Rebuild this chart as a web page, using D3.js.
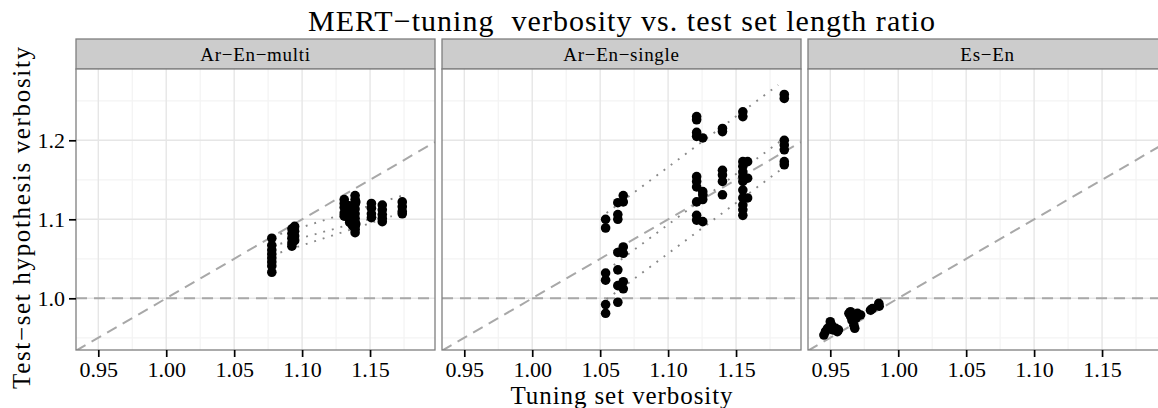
<!DOCTYPE html>
<html><head><meta charset="utf-8">
<script src="https://cdn.jsdelivr.net/npm/d3@7"></script>
<style>
body{margin:0;background:#fff}
svg{display:block}
text{font-family:"Liberation Serif","Times New Roman",serif;fill:#000}
</style>
</head><body>
<svg id="chart" width="1158" height="408"></svg>
<script>
// ---------- data ----------
const panels = ["Ar−En−multi", "Ar−En−single", "Es−En"];
const xTicks = [0.95, 1.00, 1.05, 1.10, 1.15];
const xMinor = [0.975, 1.025, 1.075, 1.125, 1.175];
const yTicks = [1.0, 1.1, 1.2];
const yMinor = [0.95, 1.05, 1.15, 1.25];

const multiX = [1.0777,1.0777,1.0777,1.0777,1.0777,1.0777,1.0777,1.0777,
  1.0925,1.0925,1.0925,1.0925,1.0925,1.0945,1.0945,1.0945,1.0945,
  1.131,1.131,1.131,1.131,1.131,1.1325,1.1325,
  1.135,1.135,1.135,1.135,1.135,1.137,1.137,1.137,
  1.139,1.139,1.139,1.139,1.139,1.139,1.139,1.139,1.139,1.139,1.1395,1.1395,
  1.151,1.151,1.151,1.151,
  1.159,1.159,1.159,1.159,1.159,
  1.1737,1.1737,1.1737,1.1737];
const multiY = [1.076,1.067,1.061,1.056,1.051,1.046,1.041,1.033,
  1.088,1.082,1.076,1.070,1.066,1.091,1.085,1.079,1.073,
  1.125,1.120,1.115,1.108,1.104,1.118,1.110,
  1.117,1.111,1.105,1.100,1.096,1.108,1.102,1.092,
  1.130,1.125,1.119,1.113,1.107,1.101,1.096,1.091,1.087,1.083,1.122,1.094,
  1.120,1.114,1.107,1.102,
  1.118,1.112,1.106,1.101,1.097,
  1.122,1.116,1.110,1.107];

const singleX = [1.054,1.054,1.054,1.054,1.054,1.054,
  1.063,1.063,1.063,1.063,1.063,1.063,1.063,
  1.067,1.067,1.067,1.067,1.067,1.067,
  1.121,1.121,1.121,1.121,1.121,1.121,1.121,1.121,1.121,1.121,
  1.1255,1.1255,1.1255,1.1255,1.1255,
  1.140,1.140,1.140,1.140,1.140,1.140,
  1.155,1.155,1.155,1.155,1.155,1.155,1.155,1.155,1.155,1.155,1.155,1.155,
  1.1585,1.1585,1.1585,
  1.1855,1.1855,1.1855,1.1855,1.1855,1.1855,1.1855];
const singleY = [1.100,1.089,1.032,1.023,0.992,0.981,
  1.121,1.106,1.100,1.058,1.036,1.016,0.995,
  1.130,1.122,1.065,1.057,1.021,1.012,
  1.230,1.226,1.210,1.205,1.154,1.148,1.141,1.122,1.105,1.099,
  1.203,1.135,1.131,1.125,1.097,
  1.215,1.211,1.162,1.156,1.148,1.131,
  1.236,1.230,1.173,1.167,1.160,1.154,1.148,1.137,1.127,1.118,1.112,1.105,
  1.173,1.152,1.127,
  1.258,1.253,1.200,1.194,1.188,1.173,1.169];

const esX = [0.9453,0.9465,0.948,0.950,0.951,0.952,0.954,0.9552,0.956,
  0.9637,0.9649,0.965,0.966,0.9674,0.968,0.969,0.970,0.9723,0.9796,0.981,0.9857,0.986];
const esY = [0.9535,0.958,0.962,0.9704,0.966,0.960,0.962,0.9577,0.960,
  0.981,0.983,0.977,0.972,0.966,0.962,0.975,0.981,0.9789,0.985,0.987,0.9937,0.990];

// fitted (dotted) lines per panel: [x1, y1, x2, y2]
const multiFits = [[1.0777,1.078,1.1737,1.130],[1.084,1.069,1.166,1.108],[1.084,1.058,1.166,1.104]];
const singleFits = [[1.0547,1.108,1.181,1.270],[1.0547,1.0354,1.185,1.202],[1.0547,0.9987,1.185,1.1655]];
const esFits = [];

const title = "MERT−tuning  verbosity vs. test set length ratio";
const xTitle = "Tuning set verbosity";
const yTitle = "Test−set hypothesis verbosity";

// ---------- layout ----------
const svg = d3.select("#chart");
const panelW = 359, gap = 7, left0 = 76;
const stripTop = 39, plotTop = 69, plotBottom = 350;
const x = d3.scaleLinear().domain([0.9336, 1.1978]).range([0, panelW]);
const y = d3.scaleLinear().domain([0.93456, 1.29025]).range([plotBottom - plotTop, 0]);
const H = plotBottom - plotTop;
const serif = '"Liberation Serif","Times New Roman",serif';

const pts = [d3.zip(multiX, multiY), d3.zip(singleX, singleY), d3.zip(esX, esY)];
const fits = [multiFits, singleFits, esFits];

const defs = svg.append("defs");

panels.forEach((name, i) => {
  const px = left0 + i * (panelW + gap);
  defs.append("clipPath").attr("id", "clip" + i)
    .append("rect").attr("width", panelW).attr("height", H);

  // strip
  svg.append("rect").attr("x", px).attr("y", stripTop).attr("width", panelW)
    .attr("height", plotTop - stripTop).attr("fill", "#cccccc")
    .attr("stroke", "#7f7f7f").attr("stroke-width", 1.3);
  svg.append("text").attr("x", px + panelW / 2).attr("y", (stripTop + plotTop) / 2 + 6.5)
    .attr("text-anchor", "middle")
    .style("font-size", "19px").style("letter-spacing", "0.7px").text(name);

  const g = svg.append("g").attr("transform", `translate(${px},${plotTop})`);
  const inner = g.append("g").attr("clip-path", `url(#clip${i})`);

  inner.append("rect").attr("width", panelW).attr("height", H).attr("fill", "#fff");
  // minor grid
  inner.selectAll(".mx").data(xMinor).join("line")
    .attr("x1", d => x(d)).attr("x2", d => x(d)).attr("y1", 0).attr("y2", H)
    .attr("stroke", "#f3f3f3").attr("stroke-width", 1.2);
  inner.selectAll(".my").data(yMinor).join("line")
    .attr("y1", d => y(d)).attr("y2", d => y(d)).attr("x1", 0).attr("x2", panelW)
    .attr("stroke", "#f3f3f3").attr("stroke-width", 1.2);
  // major grid
  inner.selectAll(".gx").data(xTicks).join("line")
    .attr("x1", d => x(d)).attr("x2", d => x(d)).attr("y1", 0).attr("y2", H)
    .attr("stroke", "#e6e6e6").attr("stroke-width", 1.4);
  inner.selectAll(".gy").data(yTicks).join("line")
    .attr("y1", d => y(d)).attr("y2", d => y(d)).attr("x1", 0).attr("x2", panelW)
    .attr("stroke", "#e6e6e6").attr("stroke-width", 1.4);

  // reference lines
  const xd = x.domain();
  inner.append("line").attr("x1", x(xd[0])).attr("y1", y(xd[0]))
    .attr("x2", x(xd[1])).attr("y2", y(xd[1]))
    .attr("stroke", "#a8a8a8").attr("stroke-width", 2).attr("stroke-dasharray", "11,7");
  inner.append("line").attr("x1", 0).attr("x2", panelW).attr("y1", y(1.0)).attr("y2", y(1.0))
    .attr("stroke", "#a8a8a8").attr("stroke-width", 2).attr("stroke-dasharray", "11,7");

  // fitted dotted lines
  inner.selectAll(".fit").data(fits[i]).join("line")
    .attr("x1", d => x(d[0])).attr("y1", d => y(d[1]))
    .attr("x2", d => x(d[2])).attr("y2", d => y(d[3]))
    .attr("stroke", "#888").attr("stroke-width", 1.9)
    .attr("stroke-dasharray", "1.9,7").attr("stroke-linecap", "butt");

  // points
  inner.selectAll(".pt").data(pts[i]).join("circle")
    .attr("cx", d => x(d[0])).attr("cy", d => y(d[1])).attr("r", 4.8).attr("fill", "#000");

  // border
  g.append("rect").attr("width", panelW).attr("height", H).attr("fill", "none")
    .attr("stroke", "#7f7f7f").attr("stroke-width", 1.3);

  // x axis
  const xa = g.append("g").attr("transform", `translate(0,${H})`)
    .call(d3.axisBottom(x).tickValues(xTicks).tickFormat(d3.format(".2f")).tickSize(7).tickPadding(4));
  xa.attr("font-family", serif);
  xa.select(".domain").remove();
  xa.selectAll(".tick line").attr("stroke", "#000").attr("stroke-width", 1.7);
  xa.selectAll(".tick text").style("font-size", "22px").style("font-family", serif);

  if (i === 0) {
    const ya = g.append("g")
      .call(d3.axisLeft(y).tickValues(yTicks).tickFormat(d3.format(".1f")).tickSize(7).tickPadding(4));
    ya.attr("font-family", serif);
    ya.select(".domain").remove();
    ya.selectAll(".tick line").attr("stroke", "#000").attr("stroke-width", 1.7);
    ya.selectAll(".tick text").style("font-size", "22px").style("font-family", serif);
  }
});

const cx = left0 + (3 * panelW + 2 * gap) / 2;
svg.append("text").attr("x", cx).attr("y", 31).attr("text-anchor", "middle")
  .attr("textLength", 627).attr("lengthAdjust", "spacing")
  .style("font-size", "30px").style("white-space", "pre").text(title);
svg.append("text").attr("x", cx).attr("y", 404).attr("text-anchor", "middle")
  .attr("textLength", 222).attr("lengthAdjust", "spacing")
  .style("font-size", "25px").text(xTitle);
svg.append("text").attr("transform", `translate(30,218) rotate(-90)`)
  .attr("text-anchor", "middle")
  .attr("textLength", 342).attr("lengthAdjust", "spacing")
  .style("font-size", "25px").text(yTitle);
</script>
</body></html>
